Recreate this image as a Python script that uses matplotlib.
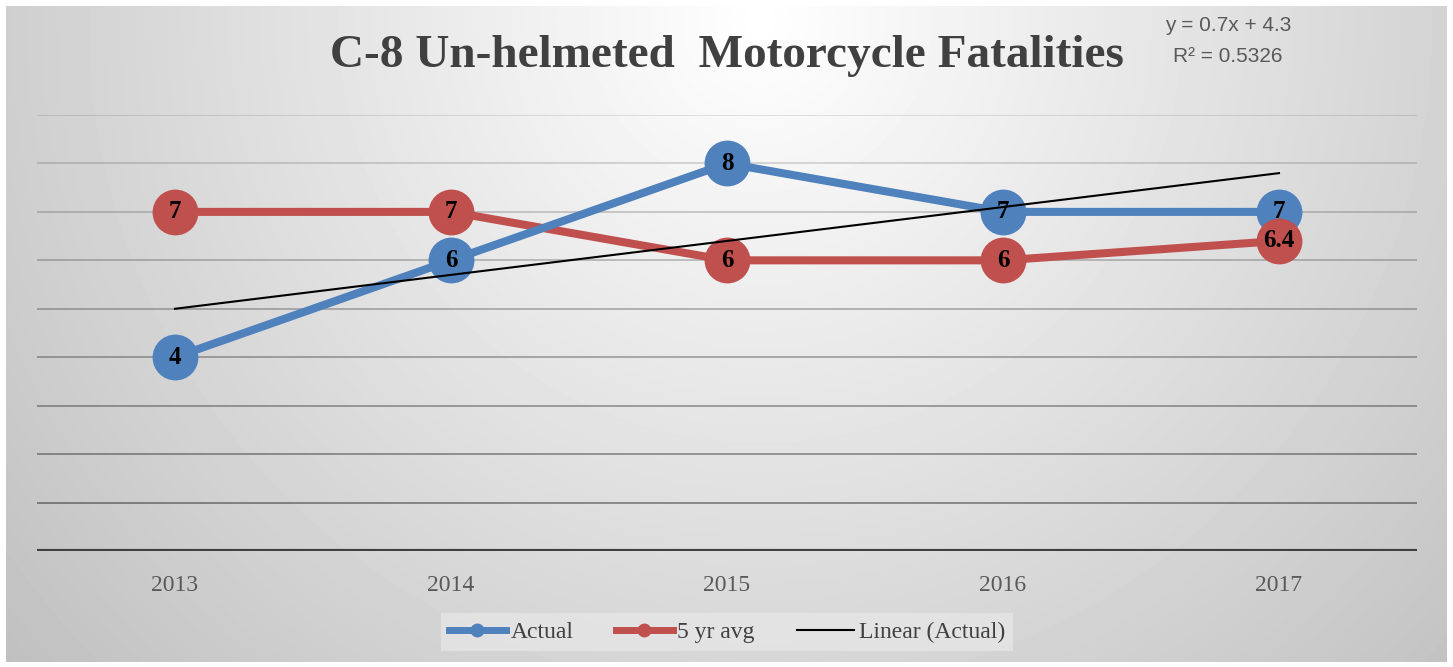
import numpy as np
import matplotlib
matplotlib.use('Agg')
import matplotlib.pyplot as plt
from matplotlib.lines import Line2D

years = ['2013', '2014', '2015', '2016', '2017']
actual = [4, 6, 8, 7, 7]
avg_5yr = [7, 7, 6, 6, 6.4]
avg_labels = ['7', '7', '6', '6', '6.4']
trend = [5.0, 5.7, 6.4, 7.1, 7.8]   # linear (actual)
title = 'C-8 Un-helmeted  Motorcycle Fatalities'
eq_text = 'y = 0.7x + 4.3\nR² = 0.5326'

BLUE = '#4f81bd'
RED = '#c0504d'
W, H = 1453, 667

fig = plt.figure(figsize=(W / 100, H / 100), dpi=100)
fig.patch.set_facecolor('white')

# radial grey background
bg = fig.add_axes([6 / W, 1 - 662 / H, 1441 / W, 656 / H])
yy, xx = np.mgrid[6:662, 6:1447]
d = np.sqrt((xx - 760.0) ** 2 + (yy - 20.0) ** 2)
shade = np.clip(1 - 0.00025 * d, 0.72, 1.0)
bg.imshow(shade, cmap='gray', vmin=0, vmax=1, aspect='auto', interpolation='bilinear')
bg.set_axis_off()

ax = fig.add_axes([37 / W, 1 - 551 / H, 1380 / W, 436 / H])
ax.set_facecolor('none')
x = np.arange(len(years))
ax.set_xlim(-0.5, 4.5)
ax.set_ylim(0, 9)

# gridlines get darker toward the bottom
for v in range(1, 10):
    a = 0.42 - 0.038 * (v - 1)
    ax.axhline(v, color='black', alpha=a, lw=1.3, zorder=1)
ax.axhline(0, color='#404040', lw=3, zorder=2)

ax.plot(x, avg_5yr, color=RED, lw=5.8, solid_capstyle='round', zorder=3)
ax.plot(x, actual, color=BLUE, lw=5.8, solid_capstyle='round', zorder=3.5)
ax.plot(x, actual, 'o', color=BLUE, ms=33, mec='none', zorder=4)
ax.plot(x, avg_5yr, 'o', color=RED, ms=33, mec='none', zorder=5)
ax.plot(x, trend, color='black', lw=1.5, zorder=6)

for i in range(len(x)):
    ax.text(x[i], actual[i], str(actual[i]), ha='center', va='center',
            family='Liberation Serif', fontweight='bold', fontsize=18, zorder=7)
    ax.text(x[i], avg_5yr[i], avg_labels[i], ha='center', va='center',
            family='Liberation Serif', fontweight='bold', fontsize=18, zorder=7)

ax.set_xticks(x)
ax.set_xticklabels(years, family='Liberation Serif', fontsize=17, color='#595959')
ax.tick_params(axis='x', length=0, pad=17)
ax.set_yticks([])
for s in ax.spines.values():
    s.set_visible(False)

fig.text(727 / W, 1 - 56 / H, title, ha='center', va='center', family='Liberation Serif',
         fontweight='bold', fontsize=34, color='#404040')
fig.text(1228 / W, 1 - 41 / H, eq_text, ha='center', va='center', family='Liberation Sans',
         fontsize=15, color='#595959', linespacing=1.75)

handles = [
    Line2D([0], [0], color=BLUE, lw=5, marker='o', ms=9),
    Line2D([0], [0], color=RED, lw=5, marker='o', ms=9),
    Line2D([0], [0], color='black', lw=1.5),
]
leg = fig.legend(handles, ['Actual', '5 yr avg', 'Linear (Actual)'], loc='center',
                 bbox_to_anchor=(727 / W, 1 - 632 / H), ncol=3, frameon=True,
                 prop={'family': 'Liberation Serif', 'size': 17}, handlelength=2.4,
                 handletextpad=0.2, columnspacing=1.8, borderpad=0.35, borderaxespad=0,
                 fancybox=False)
leg.get_frame().set_facecolor('#e8e8e8')
leg.get_frame().set_alpha(0.7)
leg.get_frame().set_edgecolor('none')
for t in leg.get_texts():
    t.set_color('#404040')

fig.savefig('out.png', dpi=100)
